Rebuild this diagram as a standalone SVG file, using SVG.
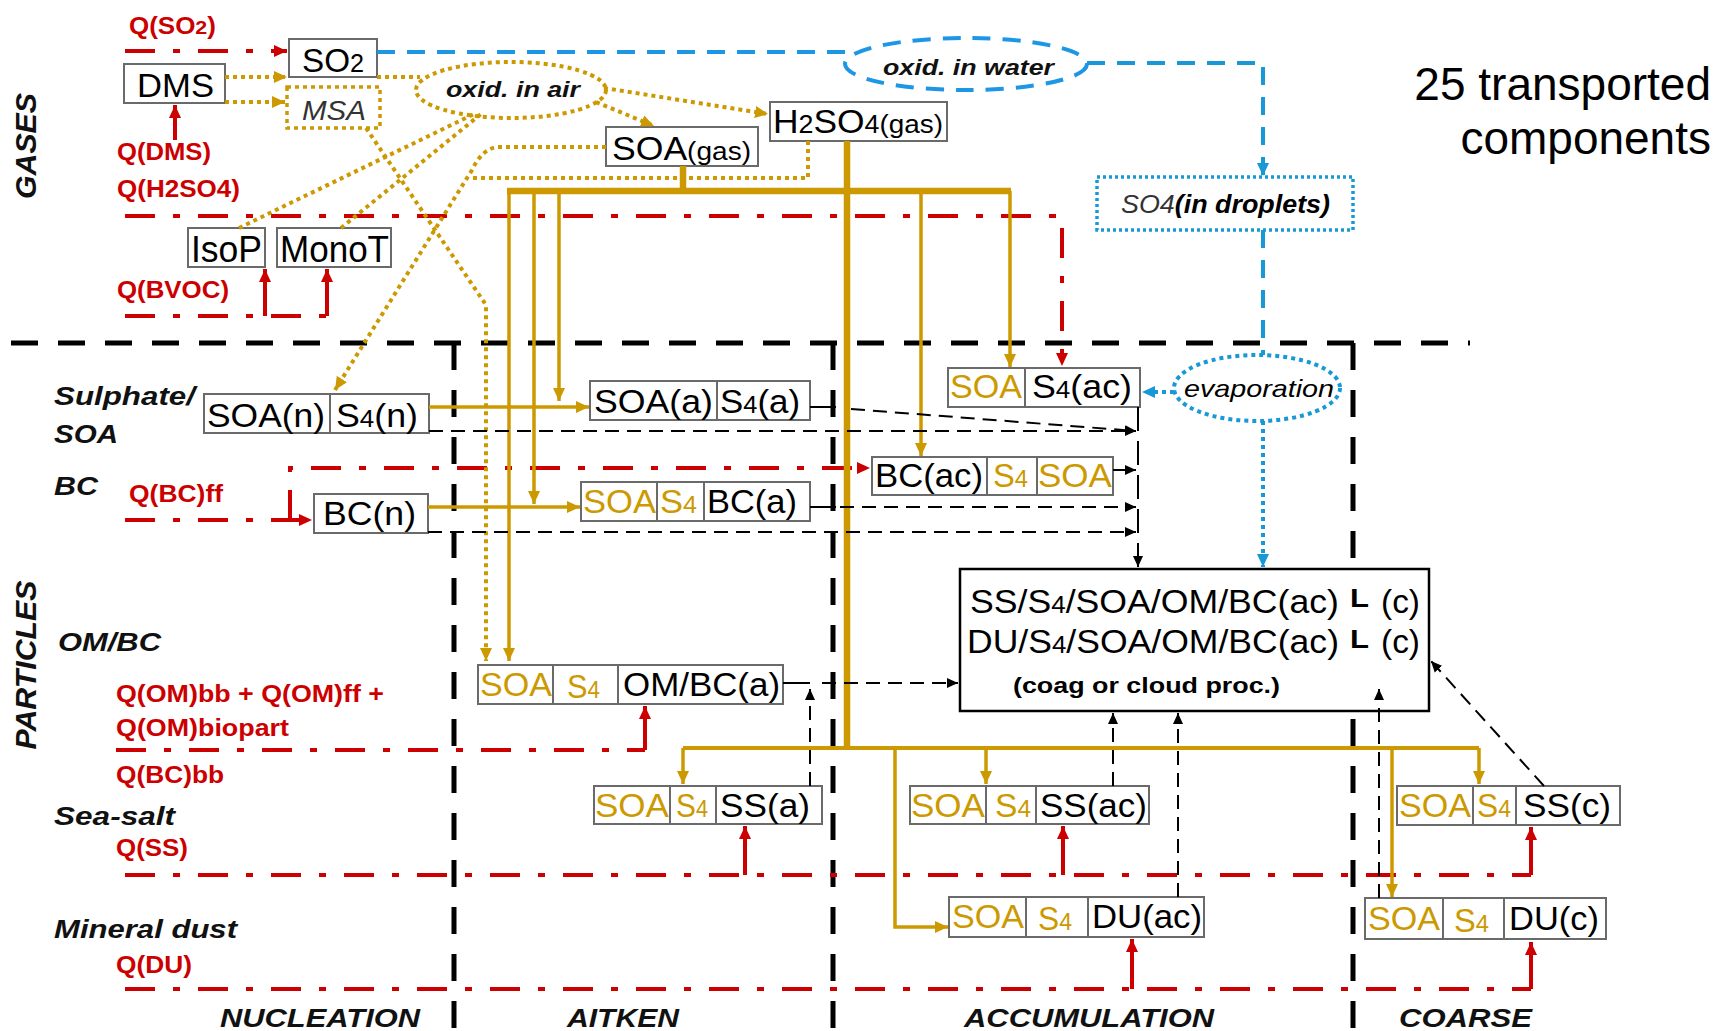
<svg xmlns="http://www.w3.org/2000/svg" width="1718" height="1031" viewBox="0 0 1718 1031">
<defs>
<style>
.box{fill:#fff;stroke:#6a6a6a;stroke-width:2}
.t{font-family:"Liberation Sans",Arial,sans-serif;font-size:33px;fill:#000}
.g{fill:#CC9900}
.lab{font-family:"Liberation Sans",Arial,sans-serif;font-weight:bold;font-style:italic;font-size:26px;fill:#111}
.q{font-family:"Liberation Sans",Arial,sans-serif;font-weight:bold;font-size:23px;fill:#CC0000}
.red{stroke:#CC0000;stroke-width:4;fill:none;stroke-dasharray:30 18 7 18}
.reds{stroke:#CC0000;stroke-width:4;fill:none}
.gold{stroke:#CC9900;stroke-width:3.5;fill:none}
.goldk{stroke:#CC9900;stroke-width:6.5;fill:none}
.golddot{stroke:#CC9900;stroke-width:4;stroke-dasharray:4 4;fill:none}
.bd{stroke:#000;stroke-width:2;stroke-dasharray:14 8;fill:none}
.bs{stroke:#000;stroke-width:2;fill:none}
.mode{stroke:#000;stroke-width:5;stroke-dasharray:27 20;fill:none}
.blued{stroke:#1E96E6;stroke-width:4;stroke-dasharray:18 12;fill:none}
.bluedot{stroke:#1899D6;stroke-width:4;stroke-dasharray:4 4;fill:none}
</style>
<marker id="ag" markerUnits="userSpaceOnUse" markerWidth="14" markerHeight="14" refX="13" refY="7" orient="auto"><path d="M0,1 L13,7 L0,13 z" fill="#CC9900"/></marker>
<marker id="ar" markerUnits="userSpaceOnUse" markerWidth="14" markerHeight="14" refX="13" refY="7" orient="auto"><path d="M0,1 L13,7 L0,13 z" fill="#CC0000"/></marker>
<marker id="ak" markerUnits="userSpaceOnUse" markerWidth="12" markerHeight="12" refX="11" refY="6" orient="auto"><path d="M0,1 L11,6 L0,11 z" fill="#000"/></marker>
<marker id="ab" markerUnits="userSpaceOnUse" markerWidth="14" markerHeight="14" refX="13" refY="7" orient="auto"><path d="M0,1 L13,7 L0,13 z" fill="#1899D6"/></marker>
</defs>
<rect width="1718" height="1031" fill="#fff"/>

<g id="boundaries">
<path class="mode" d="M11,343 H1470"/>
<path class="mode" d="M454,343 V1031"/>
<path class="mode" d="M833,343 V1031"/>
<path class="mode" d="M1353,343 V1031"/>
</g>

<g id="labels">
<text class="lab" transform="translate(36,146) rotate(-90)" text-anchor="middle" style="font-size:30px" textLength="106" lengthAdjust="spacingAndGlyphs">GASES</text>
<text class="lab" transform="translate(36,665) rotate(-90)" text-anchor="middle" style="font-size:30px" textLength="169" lengthAdjust="spacingAndGlyphs">PARTICLES</text>
<text class="lab" x="54" y="405" textLength="141" lengthAdjust="spacingAndGlyphs">Sulphate/</text>
<text class="lab" x="54" y="443" textLength="64" lengthAdjust="spacingAndGlyphs">SOA</text>
<text class="lab" x="54" y="495" textLength="44" lengthAdjust="spacingAndGlyphs">BC</text>
<text class="lab" x="58" y="651" textLength="103" lengthAdjust="spacingAndGlyphs">OM/BC</text>
<text class="lab" x="54" y="825" textLength="121" lengthAdjust="spacingAndGlyphs">Sea-salt</text>
<text class="lab" x="54" y="938" textLength="183" lengthAdjust="spacingAndGlyphs">Mineral dust</text>
<text class="lab" x="220" y="1027" textLength="200" lengthAdjust="spacingAndGlyphs">NUCLEATION</text>
<text class="lab" x="567" y="1027" textLength="112" lengthAdjust="spacingAndGlyphs">AITKEN</text>
<text class="lab" x="964" y="1027" textLength="250" lengthAdjust="spacingAndGlyphs">ACCUMULATION</text>
<text class="lab" x="1399" y="1027" textLength="133" lengthAdjust="spacingAndGlyphs">COARSE</text>
<text class="q" x="129" y="34" textLength="87" lengthAdjust="spacingAndGlyphs">Q(SO<tspan font-size="19">2</tspan>)</text>
<text class="q" x="117" y="160" textLength="94" lengthAdjust="spacingAndGlyphs">Q(DMS)</text>
<text class="q" x="117" y="197" textLength="123" lengthAdjust="spacingAndGlyphs">Q(H2SO4)</text>
<text class="q" x="117" y="298" textLength="112" lengthAdjust="spacingAndGlyphs">Q(BVOC)</text>
<text class="q" x="129" y="502" textLength="94" lengthAdjust="spacingAndGlyphs">Q(BC)ff</text>
<text class="q" x="116" y="702" textLength="268" lengthAdjust="spacingAndGlyphs">Q(OM)bb + Q(OM)ff +</text>
<text class="q" x="116" y="736" textLength="173" lengthAdjust="spacingAndGlyphs">Q(OM)biopart</text>
<text class="q" x="116" y="783" textLength="108" lengthAdjust="spacingAndGlyphs">Q(BC)bb</text>
<text class="q" x="116" y="856" textLength="72" lengthAdjust="spacingAndGlyphs">Q(SS)</text>
<text class="q" x="116" y="973" textLength="76" lengthAdjust="spacingAndGlyphs">Q(DU)</text>
<text class="t" x="1711" y="100" text-anchor="end" style="font-size:46px">25 transported</text>
<text class="t" x="1711" y="154" text-anchor="end" style="font-size:46px">components</text>
</g>

<g id="node-oxid-air">
<ellipse cx="511" cy="90" rx="95" ry="28" class="golddot"/>
<text class="lab" x="446" y="97" style="font-size:22px" textLength="134" lengthAdjust="spacingAndGlyphs">oxid. in air</text>
</g>
<g id="node-oxid-water">
<ellipse cx="966" cy="64" rx="121" ry="26" class="blued"/>
<text class="lab" x="883" y="75" style="font-size:22px" textLength="171" lengthAdjust="spacingAndGlyphs">oxid. in water</text>
</g>
<g id="node-evaporation">
<ellipse cx="1257" cy="388" rx="83" ry="33" class="bluedot"/>
<text class="t" x="1184" y="397" style="font-size:24px;font-style:italic" textLength="150" lengthAdjust="spacingAndGlyphs">evaporation</text>
</g>

<g id="node-SO2"><rect class="box" x="289" y="39" width="88" height="38"/>
<text class="t" x="302" y="72" textLength="62" lengthAdjust="spacingAndGlyphs">SO<tspan font-size="25">2</tspan></text></g>
<g id="node-DMS"><rect class="box" x="124" y="64" width="101" height="39"/>
<text class="t" x="137" y="97" textLength="77" lengthAdjust="spacingAndGlyphs">DMS</text></g>
<g id="node-MSA"><rect x="287" y="87" width="93" height="41" fill="#fff" stroke="#CC9900" stroke-width="3.5" stroke-dasharray="4 4"/>
<text class="t" x="302" y="120" style="font-size:27px;font-style:italic;fill:#333" textLength="64" lengthAdjust="spacingAndGlyphs">MSA</text></g>
<g id="node-H2SO4"><rect class="box" x="770" y="102" width="177" height="39"/>
<text class="t" x="773" y="133" textLength="170" lengthAdjust="spacingAndGlyphs">H<tspan font-size="25">2</tspan>SO<tspan font-size="25">4</tspan><tspan font-size="26">(gas)</tspan></text></g>
<g id="node-SOAgas"><rect class="box" x="606" y="127" width="152" height="39"/>
<text class="t" x="612" y="160" textLength="139" lengthAdjust="spacingAndGlyphs">SOA<tspan font-size="26">(gas)</tspan></text></g>
<g id="node-IsoP"><rect class="box" x="188" y="228" width="77" height="39"/>
<text class="t" x="191" y="262" style="font-size:37px" textLength="71" lengthAdjust="spacingAndGlyphs">IsoP</text></g>
<g id="node-MonoT"><rect class="box" x="277" y="228" width="114" height="39"/>
<text class="t" x="280" y="262" style="font-size:37px" textLength="109" lengthAdjust="spacingAndGlyphs">MonoT</text></g>
<g id="node-SO4droplets"><rect x="1097" y="177" width="256" height="53" fill="#fff" stroke="#1899D6" stroke-width="3.5" stroke-dasharray="3 3"/>
<text class="t" x="1121" y="213" style="font-size:25px;font-style:italic" textLength="209" lengthAdjust="spacingAndGlyphs"><tspan fill="#333">SO4</tspan><tspan font-weight="bold">(in droplets)</tspan></text></g>

<g id="node-SOAn-S4n">
<rect class="box" x="204" y="394" width="126" height="39"/><rect class="box" x="330" y="394" width="99" height="39"/>
<text class="t" x="207" y="427" textLength="118" lengthAdjust="spacingAndGlyphs">SOA(n)</text>
<text class="t" x="336" y="427" textLength="82" lengthAdjust="spacingAndGlyphs">S<tspan font-size="24">4</tspan>(n)</text></g>
<g id="node-SOAa-S4a">
<rect class="box" x="590" y="381" width="127" height="39"/><rect class="box" x="717" y="381" width="93" height="39"/>
<text class="t" x="594" y="413" textLength="119" lengthAdjust="spacingAndGlyphs">SOA(a)</text>
<text class="t" x="720" y="413" textLength="80" lengthAdjust="spacingAndGlyphs">S<tspan font-size="24">4</tspan>(a)</text></g>
<g id="node-SOAac-S4ac">
<rect class="box" x="948" y="368" width="77" height="39"/><rect class="box" x="1025" y="368" width="115" height="39"/>
<text class="t g" x="950" y="398" textLength="72" lengthAdjust="spacingAndGlyphs">SOA</text>
<text class="t" x="1032" y="398" textLength="100" lengthAdjust="spacingAndGlyphs">S<tspan font-size="24">4</tspan>(ac)</text></g>
<g id="node-BCn"><rect class="box" x="314" y="494" width="114" height="39"/>
<text class="t" x="323" y="525" textLength="93" lengthAdjust="spacingAndGlyphs">BC(n)</text></g>
<g id="node-BCa">
<rect class="box" x="581" y="482" width="76" height="39"/><rect class="box" x="657" y="482" width="47" height="39"/><rect class="box" x="704" y="482" width="106" height="39"/>
<text class="t g" x="583" y="513" textLength="73" lengthAdjust="spacingAndGlyphs">SOA</text>
<text class="t g" x="660" y="513" textLength="37" lengthAdjust="spacingAndGlyphs">S<tspan font-size="24">4</tspan></text>
<text class="t" x="707" y="513" textLength="90" lengthAdjust="spacingAndGlyphs">BC(a)</text></g>
<g id="node-BCac">
<rect class="box" x="872" y="457" width="115" height="38"/><rect class="box" x="987" y="457" width="50" height="38"/><rect class="box" x="1037" y="457" width="76" height="38"/>
<text class="t" x="875" y="487" textLength="108" lengthAdjust="spacingAndGlyphs">BC(ac)</text>
<text class="t g" x="993" y="487" textLength="35" lengthAdjust="spacingAndGlyphs">S<tspan font-size="24">4</tspan></text>
<text class="t g" x="1038" y="487" textLength="74" lengthAdjust="spacingAndGlyphs">SOA</text></g>
<g id="node-OMBCa">
<rect class="box" x="478" y="665" width="75" height="39"/><rect class="box" x="553" y="665" width="65" height="39"/><rect class="box" x="618" y="665" width="165" height="39"/>
<text class="t g" x="480" y="696" textLength="72" lengthAdjust="spacingAndGlyphs">SOA</text>
<text class="t g" x="567" y="698" textLength="33" lengthAdjust="spacingAndGlyphs">S<tspan font-size="24">4</tspan></text>
<text class="t" x="623" y="696" textLength="157" lengthAdjust="spacingAndGlyphs">OM/BC(a)</text></g>
<g id="node-SSa">
<rect class="box" x="594" y="786" width="76" height="38"/><rect class="box" x="670" y="786" width="46" height="38"/><rect class="box" x="716" y="786" width="106" height="38"/>
<text class="t g" x="595" y="817" textLength="74" lengthAdjust="spacingAndGlyphs">SOA</text>
<text class="t g" x="676" y="817" textLength="32" lengthAdjust="spacingAndGlyphs">S<tspan font-size="24">4</tspan></text>
<text class="t" x="720" y="817" textLength="90" lengthAdjust="spacingAndGlyphs">SS(a)</text></g>
<g id="node-SSac">
<rect class="box" x="910" y="786" width="76" height="38"/><rect class="box" x="986" y="786" width="50" height="38"/><rect class="box" x="1036" y="786" width="113" height="38"/>
<text class="t g" x="911" y="817" textLength="74" lengthAdjust="spacingAndGlyphs">SOA</text>
<text class="t g" x="995" y="817" textLength="36" lengthAdjust="spacingAndGlyphs">S<tspan font-size="24">4</tspan></text>
<text class="t" x="1040" y="817" textLength="107" lengthAdjust="spacingAndGlyphs">SS(ac)</text></g>
<g id="node-SSc">
<rect class="box" x="1397" y="786" width="76" height="39"/><rect class="box" x="1473" y="786" width="43" height="39"/><rect class="box" x="1516" y="786" width="104" height="39"/>
<text class="t g" x="1399" y="817" textLength="72" lengthAdjust="spacingAndGlyphs">SOA</text>
<text class="t g" x="1477" y="817" textLength="34" lengthAdjust="spacingAndGlyphs">S<tspan font-size="24">4</tspan></text>
<text class="t" x="1523" y="817" textLength="88" lengthAdjust="spacingAndGlyphs">SS(c)</text></g>
<g id="node-DUac">
<rect class="box" x="949" y="897" width="77" height="40"/><rect class="box" x="1026" y="897" width="62" height="40"/><rect class="box" x="1088" y="897" width="116" height="40"/>
<text class="t g" x="952" y="928" textLength="72" lengthAdjust="spacingAndGlyphs">SOA</text>
<text class="t g" x="1038" y="930" textLength="34" lengthAdjust="spacingAndGlyphs">S<tspan font-size="24">4</tspan></text>
<text class="t" x="1092" y="928" textLength="110" lengthAdjust="spacingAndGlyphs">DU(ac)</text></g>
<g id="node-DUc">
<rect class="box" x="1365" y="898" width="78" height="41"/><rect class="box" x="1443" y="898" width="61" height="41"/><rect class="box" x="1504" y="898" width="102" height="41"/>
<text class="t g" x="1368" y="930" textLength="72" lengthAdjust="spacingAndGlyphs">SOA</text>
<text class="t g" x="1454" y="932" textLength="35" lengthAdjust="spacingAndGlyphs">S<tspan font-size="24">4</tspan></text>
<text class="t" x="1509" y="930" textLength="90" lengthAdjust="spacingAndGlyphs">DU(c)</text></g>
<g id="node-mixed">
<rect x="960" y="569" width="469" height="142" fill="#fff" stroke="#000" stroke-width="2.5"/>
<text class="t" x="970" y="613" textLength="369" lengthAdjust="spacingAndGlyphs">SS/S<tspan font-size="24">4</tspan>/SOA/OM/BC(ac)</text>
<text class="t" x="1350" y="607" style="font-weight:bold;font-size:26px" textLength="19" lengthAdjust="spacingAndGlyphs">L</text>
<text class="t" x="1381" y="613" textLength="39" lengthAdjust="spacingAndGlyphs">(c)</text>
<text class="t" x="967" y="653" textLength="372" lengthAdjust="spacingAndGlyphs">DU/S<tspan font-size="24">4</tspan>/SOA/OM/BC(ac)</text>
<text class="t" x="1350" y="648" style="font-weight:bold;font-size:26px" textLength="19" lengthAdjust="spacingAndGlyphs">L</text>
<text class="t" x="1381" y="653" textLength="39" lengthAdjust="spacingAndGlyphs">(c)</text>
<text class="t" x="1013" y="693" style="font-weight:bold;font-size:22px" textLength="267" lengthAdjust="spacingAndGlyphs">(coag or cloud proc.)</text>
</g>

<g id="connectors">
<path class="red" d="M125,51 H287" marker-end="url(#ar)"/>
<path class="red" d="M125,216 H1062 V366" marker-end="url(#ar)"/>
<path class="red" d="M125,316 H327"/>
<path class="reds" d="M265,316 V269" marker-end="url(#ar)"/>
<path class="reds" d="M327,316 V269" marker-end="url(#ar)"/>
<path class="reds" d="M175,140 V105" marker-end="url(#ar)"/>
<path class="red" d="M125,520 H312" marker-end="url(#ar)"/>
<path class="red" d="M290,520 V468 H870" marker-end="url(#ar)"/>
<path class="red" d="M116,750 H645"/>
<path class="reds" d="M645,750 V706" marker-end="url(#ar)"/>
<path class="red" d="M125,875 H1531"/>
<path class="reds" d="M1531,875 V827" marker-end="url(#ar)"/>
<path class="reds" d="M745,875 V826" marker-end="url(#ar)"/>
<path class="reds" d="M1063,875 V826" marker-end="url(#ar)"/>
<path class="red" d="M125,989 H1531"/>
<path class="reds" d="M1531,989 V942" marker-end="url(#ar)"/>
<path class="reds" d="M1132,989 V939" marker-end="url(#ar)"/>
<path class="blued" d="M377,52 H846"/>
<path class="blued" d="M1087,63 H1263 V176" marker-end="url(#ab)" style="stroke:#1899D6"/>
<path class="blued" d="M1263,230 V355" style="stroke:#1899D6"/>
<path class="bluedot" d="M1174,392 H1142" marker-end="url(#ab)"/>
<path class="bluedot" d="M1263,421 V567" marker-end="url(#ab)"/>
<path class="golddot" d="M225,77 H287" marker-end="url(#ag)"/>
<path class="golddot" d="M225,102 H285" marker-end="url(#ag)"/>
<path class="golddot" d="M377,77 H420"/>
<path class="golddot" d="M604,88 L768,114" marker-end="url(#ag)"/>
<path class="golddot" d="M596,102 L654,126" marker-end="url(#ag)"/>
<path class="golddot" d="M239,228 L476,113"/>
<path class="golddot" d="M341,228 L481,114"/>
<path class="golddot" d="M366,128 L486,305 V661" marker-end="url(#ag)"/>
<path class="golddot" d="M606,147 H497 Q482,149 472,170 L335,390" marker-end="url(#ag)"/>
<path class="golddot" d="M808,141 V178 H470"/>
<path class="goldk" d="M683,166 V191"/>
<path class="goldk" d="M507,191 H1011"/>
<path class="goldk" d="M847,141 V748"/>
<path class="gold" d="M509,191 V661" marker-end="url(#ag)"/>
<path class="gold" d="M534,191 V504" marker-end="url(#ag)"/>
<path class="gold" d="M559,191 V401" marker-end="url(#ag)"/>
<path class="gold" d="M921,191 V456" marker-end="url(#ag)"/>
<path class="gold" d="M1010,191 V367" marker-end="url(#ag)"/>
<path class="gold" d="M429,407 H589" marker-end="url(#ag)"/>
<path class="gold" d="M428,507 H580" marker-end="url(#ag)"/>
<path class="gold" style="stroke-width:4" d="M683,748 H1479"/>
<path class="gold" d="M683,748 V784" marker-end="url(#ag)"/>
<path class="gold" d="M986,748 V784" marker-end="url(#ag)"/>
<path class="gold" d="M1479,748 V784" marker-end="url(#ag)"/>
<path class="gold" d="M895,748 V927 H948" marker-end="url(#ag)"/>
<path class="gold" d="M1392,748 V897" marker-end="url(#ag)"/>
<path class="bd" d="M429,431 H1136" marker-end="url(#ak)"/>
<path class="bs" d="M810,407 H836"/>
<path class="bd" d="M851,409 L1136,431" marker-end="url(#ak)"/>
<path class="bs" d="M810,507 H836"/>
<path class="bd" d="M840,507 H1136" marker-end="url(#ak)"/>
<path class="bd" d="M428,532 H1136" marker-end="url(#ak)"/>
<path class="bs" d="M1113,470 H1136" marker-end="url(#ak)"/>
<path class="bs" d="M1138,407 V567" style="stroke-dasharray:24 10" marker-end="url(#ak)"/>
<path class="bs" d="M783,683 H810"/>
<path class="bd" d="M810,786 V689" marker-end="url(#ak)"/>
<path class="bd" d="M822,683 H958" marker-end="url(#ak)"/>
<path class="bd" d="M1113,786 V713" marker-end="url(#ak)"/>
<path class="bd" d="M1178,897 V713" marker-end="url(#ak)"/>
<path class="bd" d="M1379,898 V689" marker-end="url(#ak)"/>
<path class="bd" d="M1544,786 L1431,661" marker-end="url(#ak)"/>
</g>
</svg>
